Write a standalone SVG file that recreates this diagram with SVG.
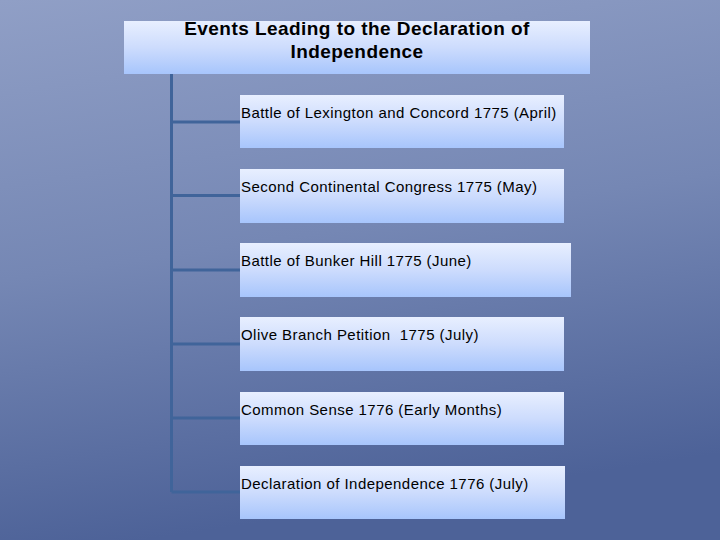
<svg xmlns="http://www.w3.org/2000/svg" width="720" height="540" viewBox="0 0 720 540">
<defs>
<linearGradient id="bg" x1="0" y1="0" x2="0.2" y2="1">
<stop offset="0" stop-color="#909fc6"/>
<stop offset="0.5" stop-color="#7587b4"/>
<stop offset="1" stop-color="#4d6298"/>
</linearGradient>
<linearGradient id="box" x1="0" y1="0" x2="0" y2="1">
<stop offset="0" stop-color="#e8efff"/>
<stop offset="0.5" stop-color="#cddcfd"/>
<stop offset="1" stop-color="#a7c5fc"/>
</linearGradient>
<style>
.box{fill:url(#box);}
.conn{stroke:#40649a;stroke-width:3;fill:none;}
.t{font-family:"Liberation Sans",Arial,sans-serif;font-size:15px;letter-spacing:0.45px;fill:#000;}
.title{font-family:"Liberation Sans",Arial,sans-serif;font-size:19px;letter-spacing:0.45px;font-weight:bold;fill:#000;text-anchor:middle;}
</style>
</defs>
<rect width="720" height="540" fill="url(#bg)"/>
<g id="connectors">
<path class="conn" d="M171.5 74 V492 M171.5 122 H240 M171.5 195.5 H240 M171.5 270 H240 M171.5 344 H240 M171.5 418 H240 M171.5 492 H240"/>
</g>
<g id="title">
<rect class="box" x="124" y="21" width="466" height="53"/>
<text class="title" x="357" y="35">Events Leading to the Declaration of</text>
<text class="title" x="357" y="58">Independence</text>
</g>
<g id="n1">
<rect class="box" x="240" y="95" width="324" height="53"/>
<text class="t" x="241" y="118">Battle of Lexington and Concord 1775 (April)</text>
</g>
<g id="n2">
<rect class="box" x="240" y="169" width="324" height="54"/>
<text class="t" x="241" y="192">Second Continental Congress 1775 (May)</text>
</g>
<g id="n3">
<rect class="box" x="240" y="243" width="331" height="54"/>
<text class="t" x="241" y="266">Battle of Bunker Hill 1775 (June)</text>
</g>
<g id="n4">
<rect class="box" x="240" y="317" width="324" height="54"/>
<text class="t" x="241" y="340">Olive Branch Petition&#160; 1775 (July)</text>
</g>
<g id="n5">
<rect class="box" x="240" y="392" width="324" height="53"/>
<text class="t" x="241" y="415">Common Sense 1776 (Early Months)</text>
</g>
<g id="n6">
<rect class="box" x="240" y="466" width="325" height="53"/>
<text class="t" x="241" y="489">Declaration of Independence 1776 (July)</text>
</g>
</svg>
